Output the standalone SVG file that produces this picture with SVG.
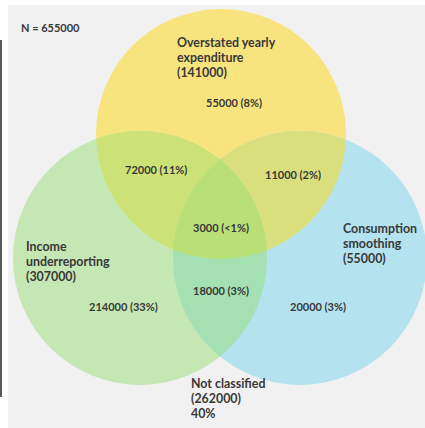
<svg xmlns="http://www.w3.org/2000/svg" width="425" height="428" viewBox="0 0 425 428">
<style>
  .t{font-family:Lato,"Open Sans","Liberation Sans",sans-serif;fill:#383838;font-weight:700}
  .h{font-size:12.4px}
  .n{font-size:11px}
</style>
<defs>
  <circle id="cy" cx="221" cy="134" r="125"/>
  <circle id="cg" cx="140" cy="258" r="127"/>
  <circle id="cb" cx="300" cy="258" r="127"/>
  <clipPath id="clipY"><use href="#cy"/></clipPath>
  <clipPath id="clipG"><use href="#cg"/></clipPath>
  <clipPath id="clipB"><use href="#cb"/></clipPath>
</defs>
<rect x="0" y="0" width="425" height="428" fill="#ffffff"/>
<rect x="8" y="5" width="417" height="423" fill="#f1f1f1"/>
<rect x="0" y="40" width="2" height="357" fill="#5a5a5a"/>
<g id="circles">
  <g id="yellow"><use href="#cy" fill="#f8e47f"/></g>
  <g id="green"><use href="#cg" fill="#c5e7b3"/></g>
  <g id="blue"><use href="#cb" fill="#b4e3ef"/></g>
  <use href="#cg" fill="#cde276" clip-path="url(#clipY)"/>
  <use href="#cb" fill="#dadf7e" clip-path="url(#clipY)"/>
  <use href="#cb" fill="#a5e0b2" clip-path="url(#clipG)"/>
  <g clip-path="url(#clipG)"><use href="#cb" fill="#b9e077" clip-path="url(#clipY)"/></g>
</g>
<g id="connectors"></g>
<g id="label-n"><text class="t" x="21" y="32" font-size="11px">N = 655000</text></g>
<g id="node-overstated">
  <text class="t h" x="177" y="47">Overstated yearly</text>
  <text class="t h" x="177" y="62">expenditure</text>
  <text class="t h" x="177" y="77">(141000)</text>
  <text class="t n" x="206" y="107">55000 (8%)</text>
</g>
<g id="node-income">
  <text class="t h" x="26" y="251">Income</text>
  <text class="t h" x="26" y="266">underreporting</text>
  <text class="t h" x="26" y="281">(307000)</text>
  <text class="t n" x="89" y="311">214000 (33%)</text>
</g>
<g id="node-consumption">
  <text class="t h" x="343" y="233">Consumption</text>
  <text class="t h" x="343" y="248">smoothing</text>
  <text class="t h" x="343" y="263">(55000)</text>
  <text class="t n" x="290" y="311">20000 (3%)</text>
</g>
<g id="overlaps">
  <text class="t n" x="125" y="174">72000 (11%)</text>
  <text class="t n" x="265" y="179">11000 (2%)</text>
  <text class="t n" x="193" y="232">3000 (&lt;1%)</text>
  <text class="t n" x="193" y="295">18000 (3%)</text>
</g>
<g id="node-notclassified">
  <text class="t h" x="191" y="388">Not classified</text>
  <text class="t h" x="191" y="403">(262000)</text>
  <text class="t h" x="191" y="418">40%</text>
</g>
</svg>
